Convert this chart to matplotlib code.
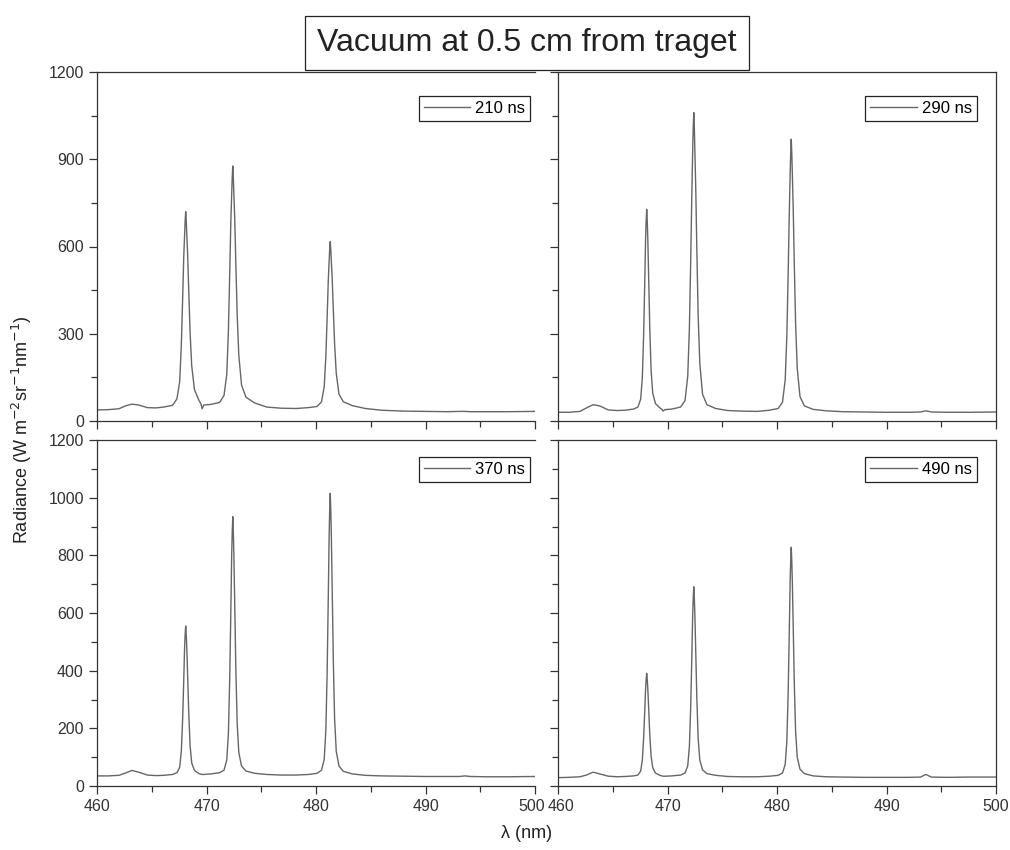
import matplotlib
matplotlib.use("Agg")
import matplotlib.pyplot as plt
from matplotlib.ticker import MultipleLocator
from matplotlib.transforms import ScaledTranslation

plt.rcParams['font.family'] = ['Liberation Sans', 'DejaVu Sans']

# wavelength grid (nm), shared by all four spectra
wl = [460.0, 461.0, 462.0, 462.6, 463.2, 463.8, 464.6, 465.4, 466.1,
      466.9, 467.3, 467.55, 467.7, 467.82, 467.92, 468.0, 468.05, 468.1, 468.15,
      468.2, 468.28, 468.38, 468.5, 468.65, 468.9, 469.3, 469.5, 469.6, 469.75,
      470.4, 471.2, 471.6, 471.85, 472.0, 472.12, 472.22, 472.3, 472.35, 472.4,
      472.45, 472.5, 472.58, 472.68, 472.8, 472.95, 473.2, 473.6, 474.4,
      475.5, 476.8, 478.2,
      479.3, 480.1, 480.5, 480.75, 480.9, 481.02, 481.12, 481.2, 481.25, 481.3,
      481.35, 481.4, 481.48, 481.58, 481.7, 481.85, 482.1, 482.5, 483.3,
      484.5, 486.0, 488.0, 490.0, 492.0, 493.1, 493.6, 494.1, 495.5, 497.5, 500.0]

# radiance (W m-2 sr-1 nm-1)
rad_210 = [38, 39, 42, 52, 58, 55, 46, 45, 48,
           54, 76, 135, 258, 418, 562, 640, 688, 720, 688,
           642, 570, 446, 306, 190, 108, 72, 58, 42, 55,
           57, 64, 88, 160, 310, 505, 683, 780, 838, 877,
           838, 782, 692, 540, 368, 226, 124, 82, 62,
           48, 44, 43,
           46, 50, 66, 118, 222, 358, 482, 550, 590, 617,
           590, 550, 490, 384, 264, 164, 92, 66, 53,
           43, 37, 34, 33, 32, 33, 33, 32, 32, 32, 33]

rad_290 = [30, 30, 33, 45, 56, 52, 38, 36, 37,
           41, 48, 75, 148, 295, 472, 628, 688, 728, 688,
           628, 494, 322, 175, 96, 60, 45, 40, 34, 39,
           41, 48, 70, 155, 320, 555, 776, 928, 1010, 1060,
           1010, 930, 800, 588, 362, 198, 92, 56, 43,
           36, 34, 33,
           37, 43, 64, 142, 294, 508, 710, 848, 922, 969,
           922, 850, 732, 538, 332, 180, 84, 52, 40,
           35, 32, 31, 30, 30, 31, 35, 31, 30, 30, 31]

rad_370 = [35, 35, 37, 45, 54, 48, 38, 36, 37,
           40, 46, 65, 120, 230, 364, 480, 525, 555, 525,
           480, 380, 252, 140, 80, 54, 43, 41, 40, 40,
           42, 46, 55, 90, 182, 370, 600, 802, 880, 934,
           880, 802, 628, 406, 218, 116, 69, 52, 44,
           40, 38, 38,
           40, 44, 55, 92, 194, 398, 650, 870, 956, 1015,
           956, 870, 680, 438, 232, 120, 69, 51, 42,
           37, 35, 34, 33, 33, 33, 35, 33, 32, 32, 33]

rad_490 = [29, 30, 32, 38, 48, 42, 34, 32, 33,
           35, 38, 52, 90, 166, 258, 338, 370, 391, 370,
           338, 270, 180, 104, 64, 45, 37, 35, 34, 34,
           35, 38, 45, 70, 138, 276, 445, 594, 652, 691,
           652, 594, 466, 302, 164, 90, 56, 43, 37,
           33, 32, 32,
           34, 37, 45, 75, 156, 324, 530, 710, 780, 828,
           780, 710, 554, 356, 188, 100, 58, 43, 35,
           32, 31, 30, 30, 30, 31, 40, 31, 30, 31, 31]

labels = ['210 ns', '290 ns', '370 ns', '490 ns']
spectra = [rad_210, rad_290, rad_370, rad_490]

W, H = 1010, 850
fig = plt.figure(figsize=(W / 100, H / 100), dpi=100)

# panel rectangles in pixels: (x0, x1, ytop, ybottom)
rects = [(97, 535, 72, 421), (558, 996, 72, 421),
         (97, 535, 440, 786), (558, 996, 440, 786)]
leg_anchor = [(0.989, 0.931), (0.957, 0.931), (0.989, 0.951), (0.957, 0.951)]

line_col = '#666666'
axis_col = '#333333'

axes = []
for i, (x0, x1, yt, yb) in enumerate(rects):
    ax = fig.add_axes([x0 / W, 1 - yb / H, (x1 - x0) / W, (yb - yt) / H])
    axes.append(ax)
    ax.plot(wl, spectra[i], color=line_col, lw=1.0, label=labels[i])
    ax.set_xlim(460, 500)
    ax.set_ylim(0, 1200)
    ax.xaxis.set_major_locator(MultipleLocator(10))
    ax.xaxis.set_minor_locator(MultipleLocator(5))
    if i < 2:
        ax.yaxis.set_major_locator(MultipleLocator(300))
        ax.yaxis.set_minor_locator(MultipleLocator(150))
    else:
        ax.yaxis.set_major_locator(MultipleLocator(200))
        ax.yaxis.set_minor_locator(MultipleLocator(100))
    ax.tick_params(which='both', direction='out', colors=axis_col,
                   labelcolor='#333333', labelsize=11.5, top=False, right=False)
    ax.tick_params(which='major', length=6, width=0.9)
    ax.tick_params(which='minor', length=4, width=0.9)
    if i < 2:
        ax.tick_params(labelbottom=False)
    if i % 2 == 1:
        ax.tick_params(labelleft=False)
    else:
        ax.spines['right'].set_visible(False)
    for sp in ax.spines.values():
        sp.set_color(axis_col)
        sp.set_linewidth(0.9)
    leg = ax.legend(loc='upper right', bbox_to_anchor=leg_anchor[i],
                    borderaxespad=0, fancybox=False, fontsize=12,
                    handlelength=2.8, handletextpad=0.3, borderpad=0.3,
                    framealpha=1)
    leg.get_frame().set_edgecolor('#222222')
    leg.get_frame().set_linewidth(0.9)

# "500" and "460" meet between the bottom panels: nudge them apart a little
fig.canvas.draw()
for ax, dx in ((axes[2], -3), (axes[3], 3)):
    for tick in ax.xaxis.get_major_ticks():
        x = tick.get_loc()
        if (dx < 0 and x == 500) or (dx > 0 and x == 460):
            lab = tick.label1
            lab.set_transform(lab.get_transform() +
                              ScaledTranslation(dx / 100, 0, fig.dpi_scale_trans))

fig.text(527 / W, 1 - 43 / H, 'Vacuum at 0.5 cm from traget', ha='center', va='center',
         fontsize=23, color='#222222',
         bbox=dict(boxstyle='square,pad=0.38', fc='white', ec='#222222', lw=0.9))
fig.text(22 / W, 1 - 430 / H, r'Radiance (W m$^{-2}$sr$^{-1}$nm$^{-1}$)', rotation=90,
         ha='center', va='center', fontsize=13, color='#222222')
fig.text(527 / W, 1 - 833 / H, 'λ (nm)', ha='center', va='center', fontsize=13,
         color='#222222')

fig.savefig('out.png', dpi=100)
